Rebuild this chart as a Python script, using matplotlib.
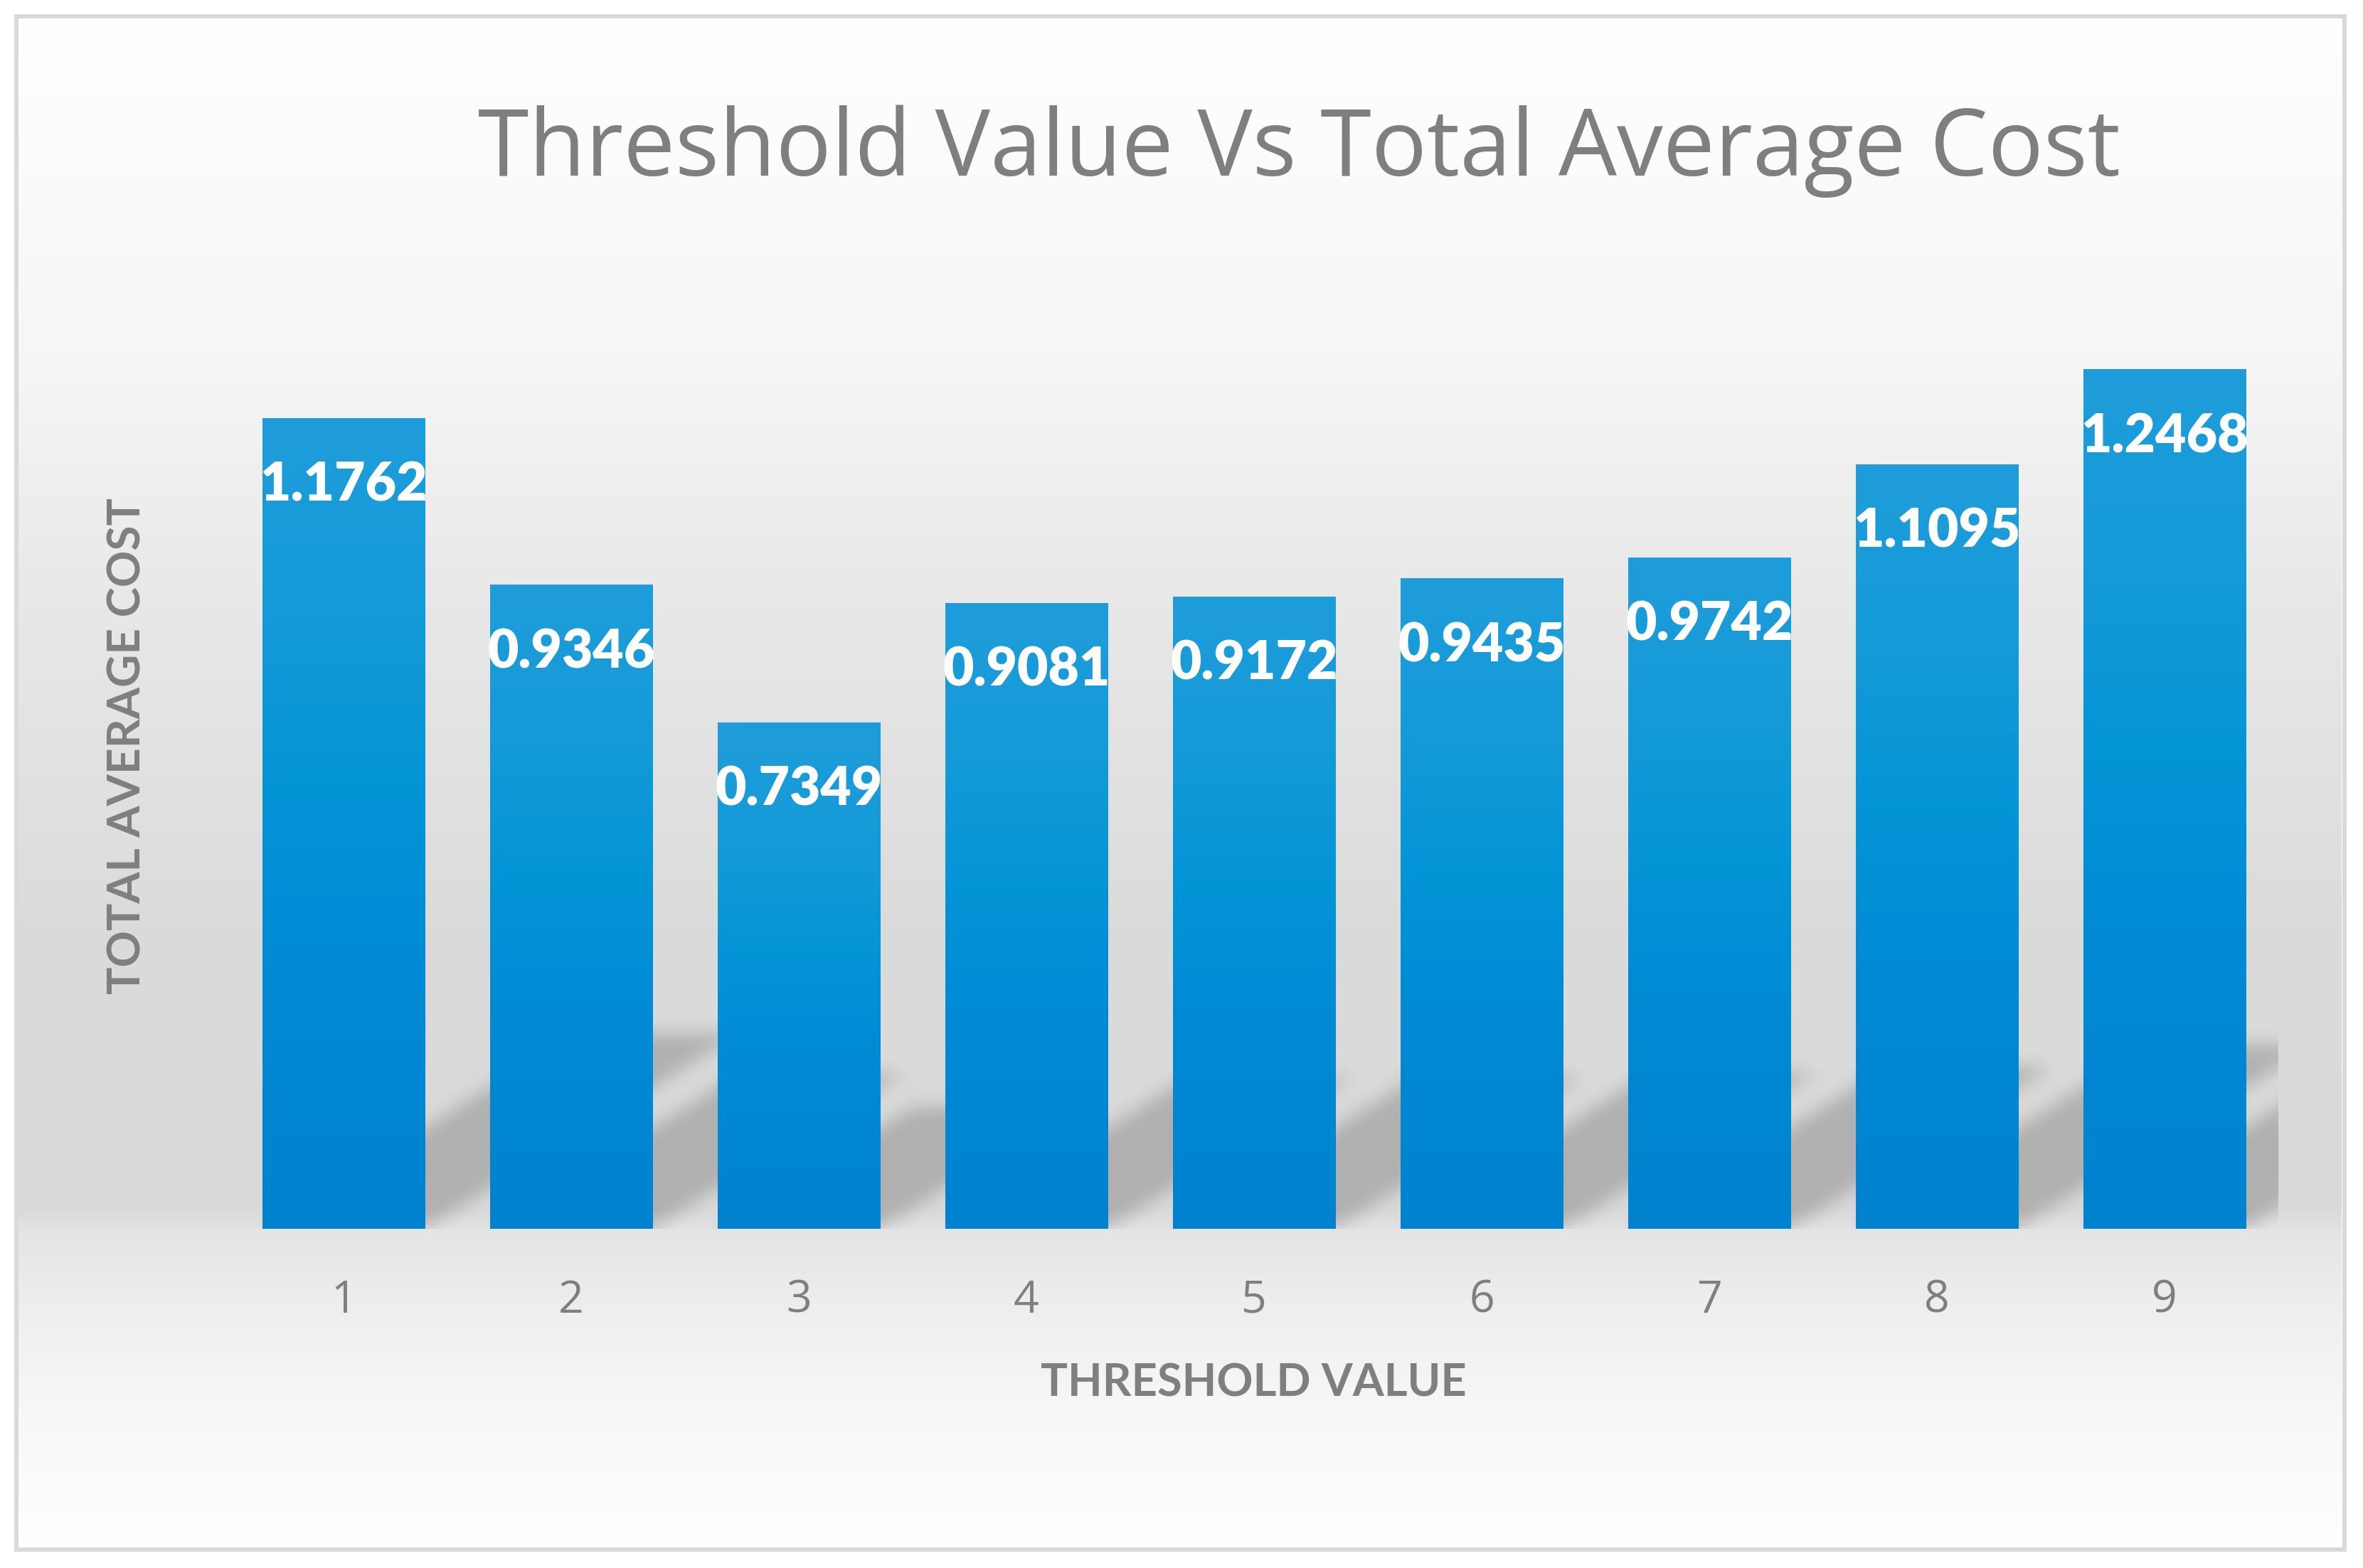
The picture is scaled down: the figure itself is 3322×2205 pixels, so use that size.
import numpy as np
import matplotlib
matplotlib.use('Agg')
import matplotlib.pyplot as plt
from matplotlib.patches import Rectangle

# ---------------- data ----------------
categories = ['1', '2', '3', '4', '5', '6', '7', '8', '9']
values = [1.1762, 0.9346, 0.7349, 0.9081, 0.9172, 0.9435, 0.9742, 1.1095, 1.2468]
value_labels = ['1.1762', '0.9346', '0.7349', '0.9081', '0.9172', '0.9435', '0.9742', '1.1095', '1.2468']
title = 'Threshold Value Vs Total Average Cost'
xlabel = 'THRESHOLD VALUE'
ylabel = 'TOTAL AVERAGE COST'

# ---------------- figure ----------------
W, H = 3322, 2205
DPI = 100
PT = 72.0 / DPI  # points per pixel
fig = plt.figure(figsize=(W / DPI, H / DPI), dpi=DPI, facecolor='white')

TEXT_GRAY = '#7f7f7f'

# background gradient of the chart area + border
bg = fig.add_axes([0, 0, 1, 1], zorder=-10)
bg.axis('off')
ys = np.linspace(25, 2175, 1200)
stops_y = [25, 300, 500, 650, 850, 1300, 1700, 1735, 1770, 1850, 1900, 2000, 2175]
stops_v = [255, 250, 246, 240, 232, 219, 217, 229, 232, 239, 242, 248, 255]
g = np.interp(ys, stops_y, stops_v) / 255.0
bg_img = np.repeat(g[:, None, None], 3, axis=2)
bg.imshow(bg_img, extent=(26, 3292, 2175, 25), aspect='auto', interpolation='bilinear')
bg.add_patch(Rectangle((22.5, 23), 3296 - 22.5, 2178.5 - 23, fill=False,
                       edgecolor='#d9d9d9', linewidth=6 * PT))
bg.set_xlim(0, W)
bg.set_ylim(H, 0)

# ---------------- plot axes ----------------
left_px, right_px, bottom_px, top_px = 323, 3203, 1728, 371
ax = fig.add_axes([left_px / W, 1 - bottom_px / H,
                   (right_px - left_px) / W, (bottom_px - top_px) / H], zorder=1)
ax.set_facecolor('none')
x = np.arange(1, len(categories) + 1)
YMAX = 1.4

# perspective shadow behind bars
bar_w = 0.715
shadow_b = 0.24          # vertical compression of the shadow
px_per_unit_y = (bottom_px - top_px) / YMAX
px_per_cat = (right_px - left_px) / len(categories)
shear = 0.387 * px_per_unit_y / px_per_cat   # category units per unit of bar height
nx, ny = 1500, 260
gx = np.linspace(0.5, 9.6, nx)
gy = np.linspace(0.0, 0.42, ny)
GX, GY = np.meshgrid(gx, gy)
mask = np.zeros_like(GX)
for xi, v in zip(x, values):
    L = xi - bar_w / 2
    R = xi + bar_w / 2
    hgt = GY / shadow_b
    inside = (GY <= shadow_b * v) & (GX >= L + shear * hgt) & (GX <= R + shear * hgt)
    mask = np.maximum(mask, inside.astype(float))


def gauss_blur(a, sx, sy):
    def kern(s):
        r = int(3 * s) + 1
        t = np.arange(-r, r + 1)
        k = np.exp(-0.5 * (t / s) ** 2)
        return k / k.sum()
    kx, ky = kern(sx), kern(sy)
    a = np.apply_along_axis(lambda m: np.convolve(m, kx, mode='same'), 1, a)
    a = np.apply_along_axis(lambda m: np.convolve(m, ky, mode='same'), 0, a)
    return a


sig_px = 12.0
dx_px = (gx[1] - gx[0]) * px_per_cat
dy_px = (gy[1] - gy[0]) * px_per_unit_y
mask = gauss_blur(mask, sig_px / dx_px, sig_px / dy_px)
shadow = np.zeros((ny, nx, 4))
shadow[..., 3] = 0.19 * mask
ax.imshow(shadow, extent=(gx[0], gx[-1], gy[0], gy[-1]), origin='lower',
          aspect='auto', interpolation='bilinear', zorder=1)

# bars with vertical gradient
bars = ax.bar(x, values, width=bar_w, color='#0a8fd5', linewidth=0, zorder=3)
gstops = [(0.0, (31, 157, 218)), (0.25, (20, 154, 216)), (0.45, (4, 149, 214)),
          (0.65, (0, 139, 213)), (1.0, (0, 130, 207))]
t = np.linspace(0, 1, 256)
grad = np.stack([np.interp(t, [s[0] for s in gstops], [s[1][c] for s in gstops])
                 for c in range(3)], axis=-1) / 255.0
grad = grad[:, None, :]
for b in bars:
    x0, w, h = b.get_x(), b.get_width(), b.get_height()
    im = ax.imshow(grad, extent=(x0, x0 + w, 0, h), origin='upper', aspect='auto',
                   interpolation='bilinear', zorder=3.5)
    im.set_clip_path(b)

# data labels
for xi, v, lbl in zip(x, values, value_labels):
    ax.annotate(lbl, xy=(xi, v), xytext=(0, -117 * PT), textcoords='offset points',
                ha='center', va='baseline', color='white', fontsize=54,
                fontweight='heavy', family=['Lato', 'DejaVu Sans'], zorder=5)

ax.set_xlim(0.5, 9.5)
ax.set_ylim(0, YMAX)
for s in ax.spines.values():
    s.set_visible(False)
ax.set_yticks([])
ax.set_xticks(x)
ax.set_xticklabels(categories, family=['Open Sans', 'DejaVu Sans'], fontsize=45, color=TEXT_GRAY)
ax.tick_params(axis='x', length=0, pad=118 * PT)
for lab in ax.get_xticklabels():
    lab.set_verticalalignment('baseline')

# titles
fig.text(1827 / W, 1 - 247 / H, title, ha='center', va='baseline', fontsize=93.4,
         color=TEXT_GRAY, family=['Open Sans', 'DejaVu Sans'])
fig.text(1762 / W, 1 - 1963 / H, xlabel, ha='center', va='baseline', fontsize=45.5,
         color=TEXT_GRAY, fontweight='bold', family=['Lato', 'DejaVu Sans'])
fig.text(198 / W, 1 - 1049 / H, ylabel, ha='center', va='baseline', fontsize=46,
         color=TEXT_GRAY, fontweight='bold', family=['Lato', 'DejaVu Sans'],
         rotation=90, rotation_mode='anchor')

fig.savefig('out.png', dpi=DPI, facecolor='white')
